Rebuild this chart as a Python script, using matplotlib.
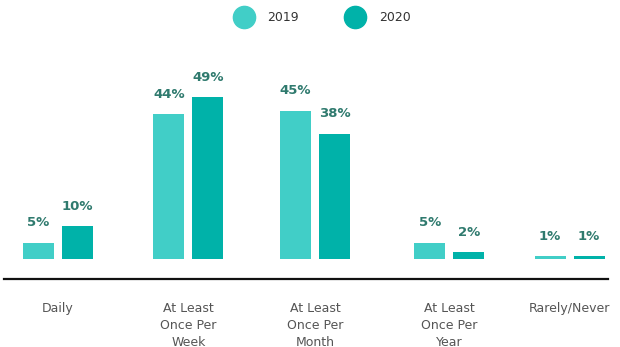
import matplotlib.pyplot as plt
from matplotlib.lines import Line2D

# data
categories = ["Daily", "At Least\nOnce Per\nWeek", "At Least\nOnce Per\nMonth",
              "At Least\nOnce Per\nYear", "Rarely/Never"]
vals_2019 = [5, 44, 45, 5, 1]
vals_2020 = [10, 49, 38, 2, 1]
years = ["2019", "2020"]

# layout (group centres, in units of the group spacing)
pos = [0, 1.02, 2.01, 3.06, 4.0]
w = 0.242
off = 0.152
c19 = "#41cec7"
c20 = "#00b2a9"
lab_col = "#2f7a6e"

plt.rcParams['font.family'] = ['DejaVu Sans']

fig = plt.figure(figsize=(6.2, 3.47), dpi=100)
W, H = 620, 347
ax = fig.add_axes([4 / W, (H - 279) / H, (608 - 4) / W, (279 - 40) / H])

x19 = [p - off for p in pos]
x20 = [p + off for p in pos]
b1 = ax.bar(x19, vals_2019, width=w, color=c19)
b2 = ax.bar(x20, vals_2020, width=w, color=c20)

for bars, vals in [(b1, vals_2019), (b2, vals_2020)]:
    for b, v in zip(bars, vals):
        ax.annotate(f"{v}%", (b.get_x() + b.get_width() / 2, v),
                    xytext=(0, 9.5), textcoords="offset points",
                    ha="center", va="bottom", fontsize=9.5,
                    fontweight="bold", color=lab_col)

ax.set_xlim(-0.42, 4.30)
ax.set_ylim(-6.06, 66.4)
for s in ["top", "right", "left"]:
    ax.spines[s].set_visible(False)
ax.spines["bottom"].set_linewidth(1.6)
ax.spines["bottom"].set_color("#111111")
ax.set_yticks([])
ax.set_xticks(pos)
ax.set_xticklabels(categories, fontsize=9, color="#555555", linespacing=1.38,
                   va="top")
ax.tick_params(axis="x", length=0, pad=16.5)

handles = [Line2D([], [], marker="o", linestyle="", markersize=16, color=c19),
           Line2D([], [], marker="o", linestyle="", markersize=16, color=c20)]
fig.legend(handles, years, loc="upper center", bbox_to_anchor=(321 / W, 1.0),
           ncol=2, frameon=False, fontsize=9, handletextpad=0.9,
           columnspacing=3.5, labelcolor="#333333")

fig.savefig("out.png", dpi=100)
